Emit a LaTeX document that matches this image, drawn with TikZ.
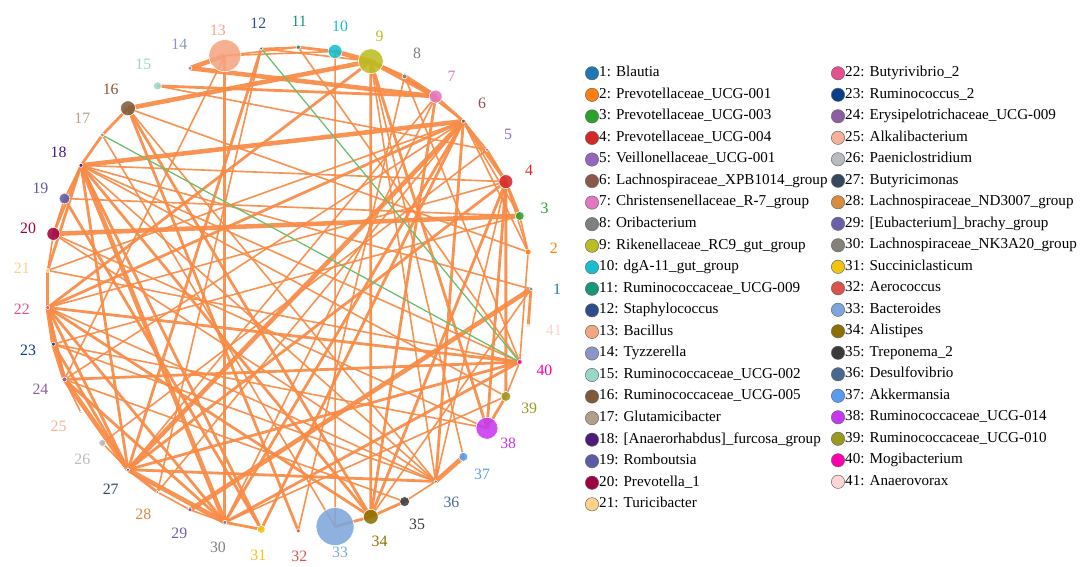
\documentclass[tikz,border=0pt]{standalone}
\usepackage{fontspec}
\setmainfont{Liberation Serif}
\usetikzlibrary{calc}
\pgfdeclarelayer{links}
\pgfsetlayers{links,main}

% taxon colours
\definecolor{c1}{HTML}{1F77B4}\definecolor{c2}{HTML}{FF7F0E}\definecolor{c3}{HTML}{2CA02C}
\definecolor{c4}{HTML}{D62728}\definecolor{c5}{HTML}{9467BD}\definecolor{c6}{HTML}{8C564B}
\definecolor{c7}{HTML}{E377C2}\definecolor{c8}{HTML}{7F7F7F}\definecolor{c9}{HTML}{BCBD22}
\definecolor{c10}{HTML}{17BECF}\definecolor{c11}{HTML}{16977A}\definecolor{c12}{HTML}{2F4B8C}
\definecolor{c13}{HTML}{F4A582}\definecolor{c14}{HTML}{8C96C6}\definecolor{c15}{HTML}{99D8C9}
\definecolor{c16}{HTML}{7F5A3A}\definecolor{c17}{HTML}{B0A08A}\definecolor{c18}{HTML}{4B1A7A}
\definecolor{c19}{HTML}{5E5AA8}\definecolor{c20}{HTML}{9E0142}\definecolor{c21}{HTML}{FDD38A}
\definecolor{c22}{HTML}{E7508F}\definecolor{c23}{HTML}{0A3D8A}\definecolor{c24}{HTML}{8E5EA2}
\definecolor{c25}{HTML}{F7B09A}\definecolor{c26}{HTML}{B8BCC0}\definecolor{c27}{HTML}{34495E}
\definecolor{c28}{HTML}{D98C3F}\definecolor{c29}{HTML}{6A5FA8}\definecolor{c30}{HTML}{85807A}
\definecolor{c31}{HTML}{F1C40F}\definecolor{c32}{HTML}{D9534F}\definecolor{c33}{HTML}{7EA6DC}
\definecolor{c34}{HTML}{8C7000}\definecolor{c35}{HTML}{3A3A3A}\definecolor{c36}{HTML}{4A6791}
\definecolor{c37}{HTML}{5B9BF0}\definecolor{c38}{HTML}{C837F0}\definecolor{c39}{HTML}{9A9A20}
\definecolor{c40}{HTML}{FF00B0}\definecolor{c41}{HTML}{FCD5D5}
\definecolor{linkorange}{HTML}{F88A44}
\definecolor{linkgreen}{HTML}{6DBE6D}

\tikzset{
  link/.style={draw=linkorange, line width=1.4pt, opacity=0.92},
  midlink/.style={link, line width=2.4pt},
  fatlink/.style={link, line width=3.9pt},
  neglink/.style={draw=linkgreen, line width=1.1pt},
  taxon/.style={circle, inner sep=0pt, draw=white, line width=0.5pt, fill opacity=0.88},
  num/.style={font=\rmfamily\fontsize{13.5}{13.5}\selectfont},
  key/.style={circle, inner sep=0pt, minimum size=0.4cm, draw=black!60, line width=0.4pt},
  keytext/.style={anchor=west, inner sep=0pt, text height=1.5ex, text depth=0.25ex,
    font=\rmfamily\fontsize{12.9}{14}\selectfont}
}

\begin{document}
\begin{tikzpicture}[x=0.03cm, y=-0.03cm]
  \useasboundingbox (0,0) rectangle (1084,567);
  \coordinate (ctr) at (289,289);

  % taxa round the circle
  \foreach \i/\r in {1/1.8, 2/3, 3/4.5, 4/7, 5/1.8, 6/2, 7/6.5, 8/2.5, 9/12.5, 10/7,
      11/2.2, 12/1.8, 13/16, 14/2, 15/4, 16/7.5, 17/2, 18/2, 19/5.5, 20/6.5,
      21/2, 22/2, 23/2, 24/2.5, 25/1.5, 26/3.5, 27/1.8, 28/1.8, 29/2, 30/2,
      31/4, 32/2, 33/19, 34/7.5, 35/5, 36/1.8, 37/4.5, 38/11, 39/5, 40/2.5, 41/1.8} {
    \pgfmathsetmacro\ang{-(\i-1)*360/41}
    \node[taxon, fill=c\i, minimum size=\r*0.06cm] (n\i) at ($(ctr)+(\ang:242)$) {};
    \node[num, text=c\i] (l\i) at ($(ctr)+(\ang:268)$) {\i};
  }

  \begin{pgfonlayer}{links}
    \foreach \a/\b in {13/14, 10/9, 9/7, 8/7, 22/23, 23/24, 24/27, 27/30, 36/37, 1/29,
        18/6, 20/3, 16/9, 14/7, 6/27, 18/30}
      \draw[fatlink] (n\a.center) -- (n\b.center);
    \foreach \a/\b in {11/10, 9/8, 7/6, 5/4, 6/4, 4/3, 15/7, 16/17, 17/18, 18/20,
        18/21, 21/22, 22/24, 23/27, 22/27, 27/28, 30/31, 24/30, 22/30, 33/34,
        34/35, 38/39, 41/1, 9/34, 9/38, 6/36, 6/31, 6/22, 6/30, 16/32,
        16/34, 18/31, 18/34, 18/27, 22/40, 22/34, 22/9, 24/40, 27/40, 27/36,
        27/4, 30/40, 31/19, 34/4, 34/7, 38/4, 39/4, 12/27, 13/30}
      \draw[midlink] (n\a.center) -- (n\b.center);
    \foreach \a/\b in {13/11, 13/10, 12/11, 12/9, 8/6, 6/5, 3/2, 4/2, 15/5, 18/19,
        19/20, 20/21, 24/25, 26/27, 28/29, 29/30, 35/36, 39/40, 10/33, 9/37,
        6/28, 6/2, 6/3, 6/24, 16/36, 18/36, 18/40, 18/1, 18/39, 18/4,
        17/33, 20/36, 20/38, 21/6, 21/40, 22/36, 22/4, 23/36, 23/38, 23/3,
        24/35, 27/7, 30/39, 30/7, 32/8, 34/1, 36/4, 36/9, 40/8, 40/11,
        40/2, 12/28, 13/24, 3/19, 2/16, 5/26}
      \draw[link] (n\a.center) -- (n\b.center);
    \draw[neglink] (n12.center) -- (n40.center);
    \draw[neglink] (n17.center) -- (n40.center);
  \end{pgfonlayer}

  % legend
  \foreach \i/\name in {1/Blautia, 2/Prevotellaceae\_UCG-001, 3/Prevotellaceae\_UCG-003,
      4/Prevotellaceae\_UCG-004, 5/Veillonellaceae\_UCG-001, 6/Lachnospiraceae\_XPB1014\_group,
      7/Christensenellaceae\_R-7\_group, 8/Oribacterium, 9/Rikenellaceae\_RC9\_gut\_group,
      10/dgA-11\_gut\_group, 11/Ruminococcaceae\_UCG-009, 12/Staphylococcus, 13/Bacillus,
      14/Tyzzerella, 15/Ruminococcaceae\_UCG-002, 16/Ruminococcaceae\_UCG-005,
      17/Glutamicibacter, 18/{[Anaerorhabdus]\_furcosa\_group}, 19/Romboutsia,
      20/Prevotella\_1, 21/Turicibacter} {
    \pgfmathsetmacro\ky{73.3+(\i-1)*21.55}
    \node[key, fill=c\i] (k\i) at (592,\ky) {};
    \node[keytext] (t\i) at (599,\ky) {\i: \name};
  }
  \foreach \i/\name in {22/Butyrivibrio\_2, 23/Ruminococcus\_2, 24/Erysipelotrichaceae\_UCG-009,
      25/Alkalibacterium, 26/Paeniclostridium, 27/Butyricimonas, 28/Lachnospiraceae\_ND3007\_group,
      29/{[Eubacterium]\_brachy\_group}, 30/Lachnospiraceae\_NK3A20\_group, 31/Succiniclasticum,
      32/Aerococcus, 33/Bacteroides, 34/Alistipes, 35/Treponema\_2, 36/Desulfovibrio,
      37/Akkermansia, 38/Ruminococcaceae\_UCG-014, 39/Ruminococcaceae\_UCG-010,
      40/Mogibacterium, 41/Anaerovorax} {
    \pgfmathsetmacro\ky{73.3+(\i-22)*21.5}
    \node[key, fill=c\i] (k\i) at (838,\ky) {};
    \node[keytext] (t\i) at (845,\ky) {\i: \name};
  }
\end{tikzpicture}
\end{document}
